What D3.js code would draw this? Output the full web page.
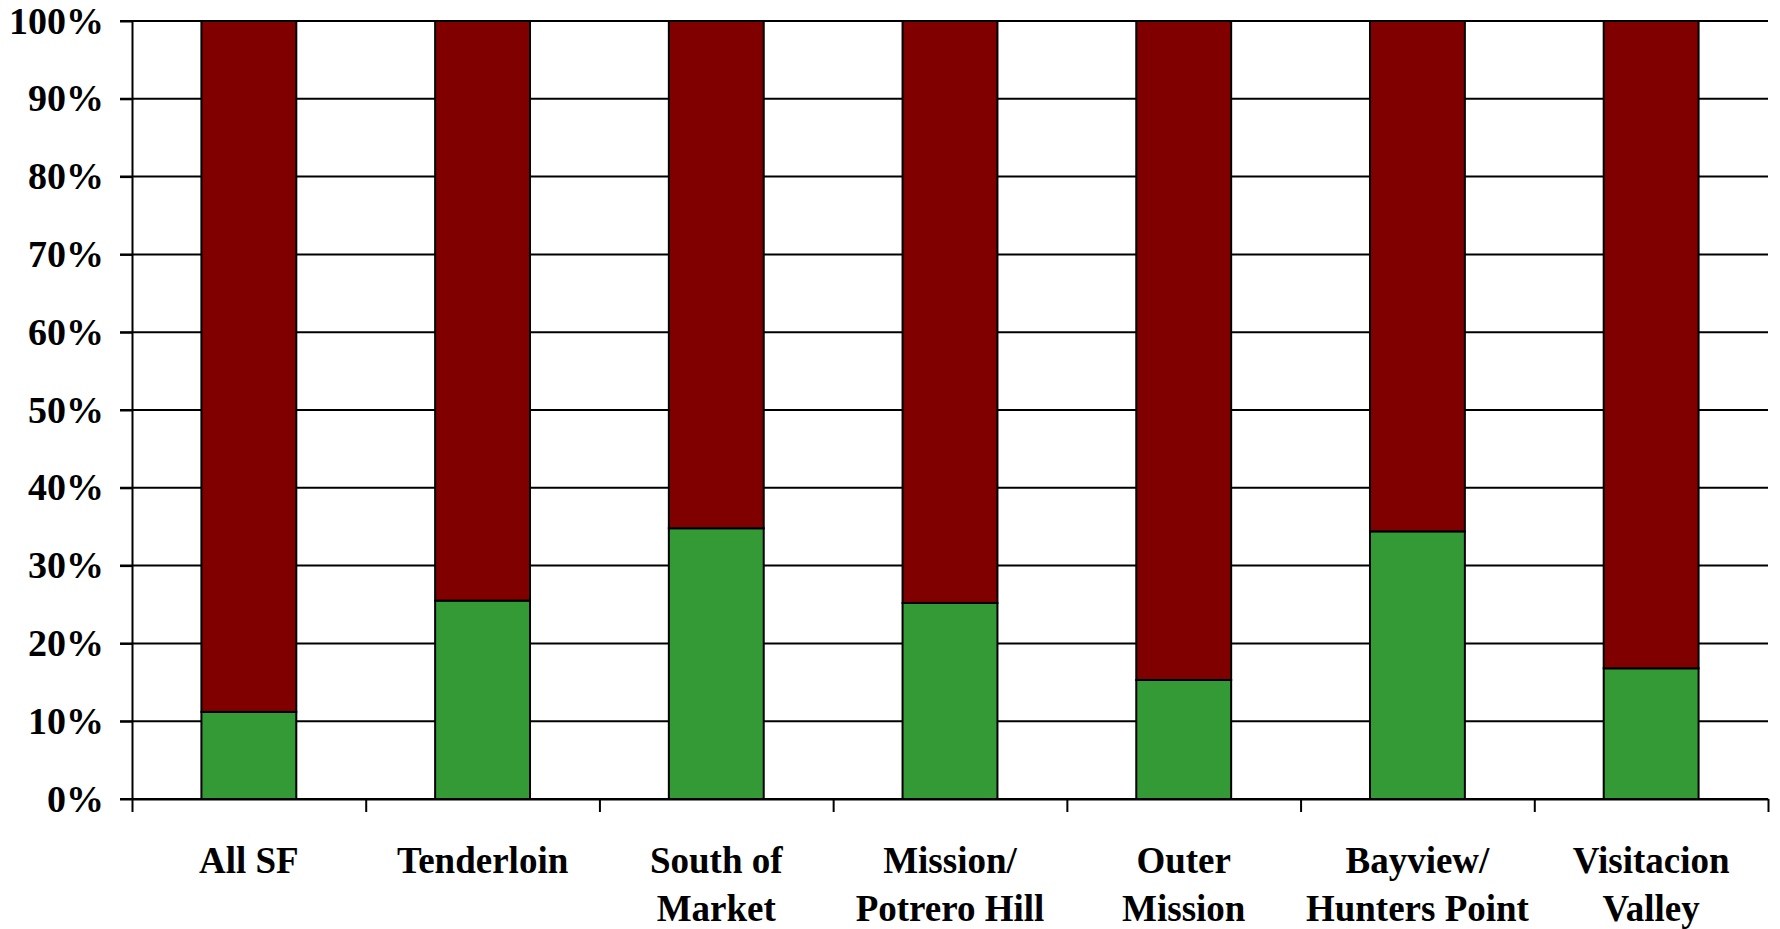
<!DOCTYPE html>
<html>
<head>
<meta charset="utf-8">
<script src="https://cdn.jsdelivr.net/npm/d3@7"></script>
<style>
  body { margin: 0; background: #fff; }
  svg text { font-family: "Liberation Serif", "Times New Roman", serif; font-weight: bold; fill: #000; }
</style>
</head>
<body>
<svg width="1780" height="929"></svg>
<script>
// Neighborhoods along the x axis (each label may wrap onto two lines)
const categories = ["All SF", "Tenderloin", "South of Market", "Mission/ Potrero Hill",
  "Outer Mission", "Bayview/ Hunters Point", "Visitacion Valley"];
const labelLines = [["All SF"], ["Tenderloin"], ["South of", "Market"], ["Mission/", "Potrero Hill"],
  ["Outer", "Mission"], ["Bayview/", "Hunters Point"], ["Visitacion", "Valley"]];
// Share of each bar, bottom (green) and top (dark red) segment, in percent
const greenShare = [11.2, 25.5, 34.8, 25.2, 15.3, 34.4, 16.8];
const redShare = [88.8, 74.5, 65.2, 74.8, 84.7, 65.6, 83.2];
const yTicks = [0, 10, 20, 30, 40, 50, 60, 70, 80, 90, 100];

const data = categories.map((c, i) => ({ cat: c, green: greenShare[i], red: redShare[i] }));

const svg = d3.select("svg"),
  margin = { top: 21, right: 12, bottom: 130, left: 132 },
  width = +svg.attr("width") - margin.left - margin.right,
  height = +svg.attr("height") - margin.top - margin.bottom;

const x = d3.scaleBand().domain(categories).range([0, width])
  .paddingInner(0.594).paddingOuter(0.297);
const y = d3.scaleLinear().domain([0, 100]).range([height, 0]);

const g = svg.append("g")
  .attr("transform", "translate(" + margin.left + "," + margin.top + ")");

// gridlines, they poke out past the y axis like the tick marks
g.append("g")
  .selectAll("line")
  .data(yTicks)
  .enter().append("line")
  .attr("x1", -12)
  .attr("x2", width)
  .attr("y1", d => y(d))
  .attr("y2", d => y(d))
  .attr("stroke", "#000")
  .attr("stroke-width", 2);

// stacked bars
const stack = d3.stack().keys(["green", "red"]);
const colors = { green: "#349a36", red: "#800000" };
g.selectAll(".layer")
  .data(stack(data))
  .enter().append("g")
  .attr("class", "layer")
  .attr("fill", d => colors[d.key])
  .selectAll("rect")
  .data(d => d)
  .enter().append("rect")
  .attr("x", d => x(d.data.cat))
  .attr("y", d => y(d[1]))
  .attr("height", d => y(d[0]) - y(d[1]))
  .attr("width", x.bandwidth())
  .attr("stroke", "#000")
  .attr("stroke-width", 2);

// y axis
const yAxis = g.append("g")
  .call(d3.axisLeft(y).tickValues(yTicks).tickFormat(d => d + "%")
    .tickSize(12).tickSizeOuter(0).tickPadding(16));
yAxis.selectAll("line, path").attr("stroke", "#000").attr("stroke-width", 2);
yAxis.selectAll("text").style("font-size", "38px");

// x axis: ticks sit on the category boundaries
const xEdge = d3.scaleLinear().domain([0, categories.length]).range([0, width]);
const xAxis = g.append("g")
  .attr("transform", "translate(0," + height + ")")
  .call(d3.axisBottom(xEdge).tickValues(d3.range(categories.length + 1))
    .tickFormat("").tickSize(13).tickSizeOuter(0));
xAxis.selectAll("line, path").attr("stroke", "#000").attr("stroke-width", 2);

// category labels
const labels = g.append("g")
  .selectAll("text")
  .data(categories)
  .enter().append("text")
  .attr("text-anchor", "middle")
  .attr("y", height + 74)
  .style("font-size", "37px");
labels.each(function(d, i) {
  const t = d3.select(this);
  labelLines[i].forEach((line, j) => {
    t.append("tspan")
      .attr("x", x(d) + x.bandwidth() / 2)
      .attr("dy", j === 0 ? 0 : 48)
      .text(line);
  });
});
</script>
</body>
</html>
